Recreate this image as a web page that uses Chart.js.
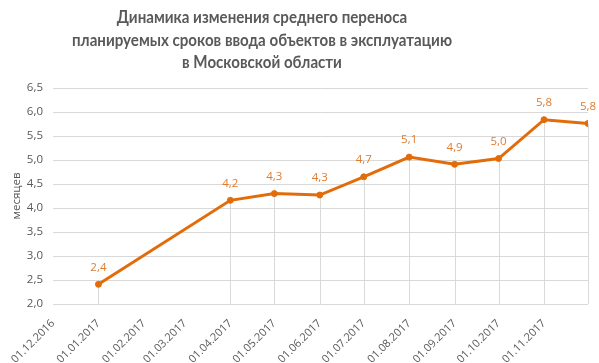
<!DOCTYPE html>
<html><head><meta charset="utf-8">
<script src="https://cdn.jsdelivr.net/npm/chart.js@4/dist/chart.umd.min.js"></script>
<style>html,body{margin:0;padding:0;background:#fff}#wrap{width:599px;height:363px}</style>
</head><body><div id="wrap"><canvas id="c" width="599" height="363"></canvas></div>
<script>
const titleLines = ['Динамика изменения среднего переноса', 'планируемых сроков ввода объектов в эксплуатацию', 'в Московской области'];
const yAxisTitle = 'месяцев';
const pointDates = ['2017-01-01','2017-04-01','2017-05-01','2017-06-01','2017-07-01','2017-08-01','2017-09-01','2017-10-01','2017-11-01','2017-12-01'];
const values = [2.41, 4.16, 4.30, 4.27, 4.65, 5.06, 4.91, 5.03, 5.84, 5.76];
const tickDates = ['2016-12-01','2017-01-01','2017-02-01','2017-03-01','2017-04-01','2017-05-01','2017-06-01','2017-07-01','2017-08-01','2017-09-01','2017-10-01','2017-11-01'];
const axisStart = '2016-12-01', axisEnd = '2017-12-01';

const DAY = 86400000;
const dayOf = s => (Date.parse(s + 'T00:00:00Z') - Date.parse(axisStart + 'T00:00:00Z')) / DAY;
const fmtDate = s => { const [y,m,d] = s.split('-'); return d + '.' + m + '.' + y; };
const tickMap = {}; tickDates.forEach(s => tickMap[dayOf(s)] = fmtDate(s));
const comma = v => v.toFixed(1).replace('.', ',');

const ORANGE = '#E36C0A';
const GRAY = '#595959';
const GRID = '#D9D9D9';

const extras = {
  id: 'extras',
  beforeDatasetsDraw(chart) {
    const ctx = chart.ctx, meta = chart.getDatasetMeta(0), a = chart.chartArea;
    ctx.save(); ctx.strokeStyle = GRID; ctx.lineWidth = 1;
    meta.data.forEach(p => {
      const x = Math.round(p.x) + 0.5;
      ctx.beginPath(); ctx.moveTo(x, p.y); ctx.lineTo(x, a.bottom); ctx.stroke();
    });
    ctx.restore();
  },
  afterDatasetsDraw(chart) {
    const ctx = chart.ctx, meta = chart.getDatasetMeta(0);
    ctx.save();
    ctx.fillStyle = '#E07B2E';
    ctx.font = '11.5px "Open Sans"';
    ctx.textAlign = 'center'; ctx.textBaseline = 'middle';
    meta.data.forEach((p, i) => ctx.fillText(comma(values[i]), p.x, p.y - 17));
    ctx.restore();
    ctx.save();
    ctx.fillStyle = GRAY;
    ctx.font = 'bold 16.5px Lato';
    const sx = 380 / ctx.measureText(titleLines[1]).width;
    ctx.textAlign = 'center'; ctx.textBaseline = 'middle';
    ctx.translate(262, 0);
    ctx.scale(sx, 1);
    titleLines.forEach((t, i) => ctx.fillText(t, 0, 18 + i * 22.5));
    ctx.restore();
  }
};

new Chart(document.getElementById('c'), {
  type: 'line',
  data: {
    datasets: [{
      data: pointDates.map((d, i) => ({x: dayOf(d), y: values[i]})),
      borderColor: ORANGE, backgroundColor: ORANGE,
      borderWidth: 3, pointRadius: 3, pointBorderWidth: 1, pointHoverRadius: 3,
      tension: 0, fill: false
    }]
  },
  options: {
    responsive: false, animation: false,
    layout: {padding: {top: 88, right: 11, left: 0, bottom: 0}},
    plugins: {legend: {display: false}, tooltip: {enabled: false}, title: {display: false}},
    scales: {
      x: {
        type: 'linear', min: dayOf(axisStart), max: dayOf(axisEnd),
        afterBuildTicks: s => { s.ticks = tickDates.map(d => ({value: dayOf(d)})); },
        afterFit: s => { s.height = 59; },
        grid: {display: false},
        border: {display: false},
        ticks: {
          autoSkip: false, maxRotation: 45, minRotation: 45, padding: 5,
          color: GRAY, font: {family: '"Open Sans"', size: 11},
          callback: v => tickMap[v] || ''
        }
      },
      y: {
        min: 2, max: 6.5,
        afterFit: s => { s.width = 53; },
        grid: {color: GRID, drawTicks: false},
        border: {display: false},
        ticks: {stepSize: 0.5, padding: 10, color: GRAY, font: {family: '"Open Sans"', size: 11.5}, callback: v => comma(v)},
        title: {display: true, text: yAxisTitle, color: GRAY, font: {family: '"Open Sans"', size: 11.5}, padding: {top: 10, bottom: 0}}
      }
    }
  },
  plugins: [extras]
});
</script></body></html>
